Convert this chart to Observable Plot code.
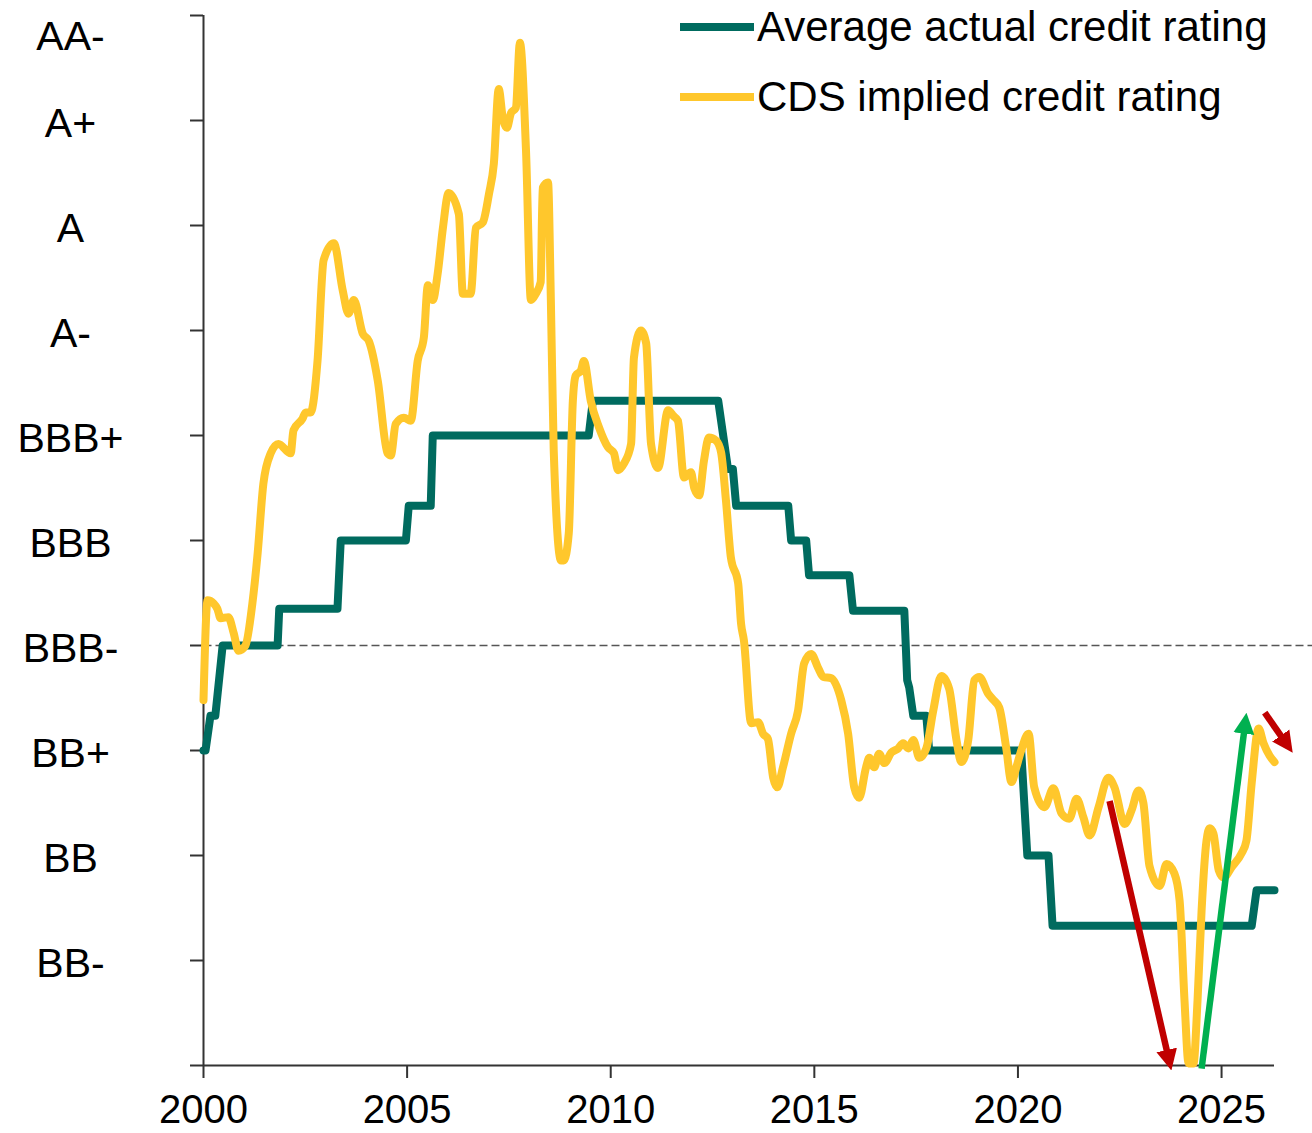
<!DOCTYPE html>
<html>
<head>
<meta charset="utf-8">
<script src="https://cdn.jsdelivr.net/npm/d3@7"></script>
<script src="https://cdn.jsdelivr.net/npm/@observablehq/plot@0.6"></script>
<style>
  html, body { margin: 0; padding: 0; background: #fff; }
  body { font-family: "Liberation Sans", Arial, sans-serif; }
  #wrap { position: relative; width: 1312px; height: 1133px; }
  .sw { position: absolute; left: 680px; width: 74px; height: 8px; }
  .lt { position: absolute; left: 757px; font-size: 42px; line-height: 54px; color: #000; white-space: nowrap; }
</style>
</head>
<body>
<div id="wrap"></div>
<script>
// Rating scale (notches), 0 = bottom of chart
const ratingLabels = ["B+", "BB-", "BB", "BB+", "BBB-", "BBB", "BBB+", "A-", "A", "A+", "AA-"];
const ratingLevels = [0, 1, 2, 3, 4, 5, 6, 7, 8, 9, 10];
const yearTicks = [2000, 2005, 2010, 2015, 2020, 2025];
const investmentGradeLevel = 4; // BBB-

// Average actual credit rating (step series)
const actualYear = [2000.00, 2000.05, 2000.17, 2000.29, 2000.47, 2001.82, 2001.86, 2003.29, 2003.37, 2004.97,
  2005.04, 2005.58, 2005.63, 2009.46, 2009.56, 2012.64, 2012.88, 2013.00, 2013.08, 2014.36,
  2014.43, 2014.80, 2014.87, 2015.86, 2015.95, 2017.21, 2017.28, 2017.33, 2017.43, 2017.75,
  2017.82, 2020.08, 2020.23, 2020.75, 2020.85, 2025.74, 2025.86, 2026.30];
const actualLevel = [3.00, 3.00, 3.33, 3.33, 4.00, 4.00, 4.35, 4.35, 5.00, 5.00,
  5.33, 5.33, 6.00, 6.00, 6.33, 6.33, 5.68, 5.68, 5.33, 5.33,
  5.00, 5.00, 4.67, 4.67, 4.33, 4.33, 3.67, 3.60, 3.33, 3.33,
  3.00, 3.00, 2.00, 2.00, 1.33, 1.33, 1.67, 1.67];

// CDS implied credit rating
const cdsYear = [2000.00, 2000.10, 2000.25, 2000.34, 2000.42, 2000.61, 2000.74, 2000.86, 2001.03, 2001.20,
  2001.33, 2001.47, 2001.65, 2001.84, 2002.14, 2002.21, 2002.43, 2002.51, 2002.63, 2002.80,
  2002.95, 2003.20, 2003.42, 2003.56, 2003.69, 2003.91, 2004.06, 2004.28, 2004.52, 2004.60,
  2004.72, 2004.92, 2005.09, 2005.26, 2005.41, 2005.51, 2005.63, 2005.75, 2005.88, 2006.02,
  2006.27, 2006.37, 2006.56, 2006.69, 2006.86, 2007.01, 2007.13, 2007.25, 2007.35, 2007.45,
  2007.55, 2007.67, 2007.77, 2007.92, 2008.04, 2008.16, 2008.28, 2008.33, 2008.46, 2008.53,
  2008.60, 2008.78, 2008.85, 2008.97, 2009.07, 2009.14, 2009.27, 2009.34, 2009.51, 2009.71,
  2009.93, 2010.08, 2010.18, 2010.32, 2010.50, 2010.57, 2010.74, 2010.87, 2010.99, 2011.16,
  2011.41, 2011.53, 2011.65, 2011.80, 2011.97, 2012.05, 2012.17, 2012.29, 2012.41, 2012.59,
  2012.71, 2012.83, 2012.95, 2013.13, 2013.20, 2013.27, 2013.45, 2013.62, 2013.74, 2013.86,
  2013.99, 2014.09, 2014.23, 2014.43, 2014.60, 2014.75, 2014.92, 2015.09, 2015.22, 2015.41,
  2015.66, 2015.83, 2015.98, 2016.10, 2016.27, 2016.35, 2016.47, 2016.59, 2016.72, 2016.89,
  2017.06, 2017.18, 2017.31, 2017.43, 2017.58, 2017.75, 2017.92, 2018.12, 2018.31, 2018.49,
  2018.61, 2018.78, 2018.93, 2019.05, 2019.27, 2019.40, 2019.54, 2019.71, 2019.84, 2019.96,
  2020.08, 2020.26, 2020.40, 2020.65, 2020.87, 2021.07, 2021.26, 2021.44, 2021.61, 2021.76,
  2021.98, 2022.22, 2022.37, 2022.62, 2022.79, 2022.96, 2023.08, 2023.23, 2023.48, 2023.65,
  2023.84, 2023.97, 2024.09, 2024.19, 2024.31, 2024.41, 2024.51, 2024.63, 2024.71, 2024.80,
  2024.93, 2025.05, 2025.25, 2025.49, 2025.61, 2025.74, 2025.91, 2026.03, 2026.18, 2026.30];
const cdsLevel = [3.48, 4.43, 4.40, 4.35, 4.26, 4.27, 4.12, 3.95, 4.00, 4.40,
  4.88, 5.54, 5.83, 5.92, 5.83, 6.05, 6.16, 6.22, 6.22, 6.71,
  7.67, 7.83, 7.38, 7.16, 7.29, 6.97, 6.90, 6.52, 5.83, 5.81,
  6.11, 6.17, 6.14, 6.71, 6.93, 7.43, 7.29, 7.54, 7.98, 8.31,
  8.11, 7.35, 7.35, 7.98, 8.03, 8.30, 8.59, 9.30, 9.02, 8.93,
  9.07, 9.12, 9.74, 8.71, 7.29, 7.35, 7.46, 8.36, 8.41, 7.29,
  5.86, 4.81, 4.81, 5.07, 6.33, 6.57, 6.62, 6.71, 6.33, 6.08,
  5.89, 5.83, 5.67, 5.73, 5.92, 6.74, 7.00, 6.88, 5.92, 5.69,
  6.24, 6.19, 6.14, 5.60, 5.65, 5.50, 5.43, 5.76, 5.98, 5.95,
  5.84, 5.38, 4.84, 4.59, 4.21, 4.05, 3.26, 3.27, 3.16, 3.11,
  2.74, 2.65, 2.84, 3.16, 3.38, 3.83, 3.92, 3.79, 3.70, 3.69,
  3.48, 3.16, 2.65, 2.55, 2.84, 2.93, 2.84, 2.97, 2.88, 2.98,
  3.02, 3.07, 3.02, 3.10, 2.93, 3.02, 3.38, 3.71, 3.59, 3.10,
  2.89, 3.10, 3.67, 3.70, 3.54, 3.48, 3.41, 3.03, 2.70, 2.84,
  3.00, 3.16, 2.65, 2.46, 2.64, 2.40, 2.35, 2.54, 2.36, 2.19,
  2.46, 2.74, 2.65, 2.30, 2.43, 2.62, 2.50, 1.90, 1.71, 1.92,
  1.83, 1.57, 0.62, 0.02, 0.02, 0.62, 1.48, 2.14, 2.26, 2.21,
  1.86, 1.79, 1.89, 2.02, 2.14, 2.69, 3.21, 3.07, 2.95, 2.89];

// Annotation arrows (data units)
const arrowStartYear = [2022.25, 2024.51, 2026.06];
const arrowStartLevel = [2.52, -0.03, 3.36];
const arrowEndYear = [2023.71, 2025.58, 2026.60];
const arrowEndLevel = [0.05, 3.26, 3.06];
const arrowColor = ["#C00000", "#00B050", "#C00000"];

const teal = "#006B5F";
const yellow = "#FFC72C";

const actual = actualYear.map((x, i) => ({x, y: actualLevel[i]}));
const cds = cdsYear.map((x, i) => ({x, y: cdsLevel[i]}));
const arrows = arrowStartYear.map((x1, i) => ({x1, y1: arrowStartLevel[i], x2: arrowEndYear[i], y2: arrowEndLevel[i], c: arrowColor[i]}));
const lowerLabels = ratingLevels.filter(d => d >= 1 && d <= 9);

const plot = Plot.plot({
  width: 1312,
  height: 1133,
  marginLeft: 203,
  marginRight: 38,
  marginTop: 15,
  marginBottom: 68,
  x: {domain: [2000, 2026.3]},
  y: {domain: [0, 10]},
  style: {fontFamily: "'Liberation Sans', Arial, sans-serif", fontSize: "40px", background: "#fff", overflow: "visible"},
  marks: [
    Plot.link([investmentGradeLevel], {x1: 2000, x2: 2027.25, y1: d => d, y2: d => d, stroke: "#555", strokeWidth: 1.6, strokeDasharray: "8,4"}),
    Plot.axisY({ticks: ratingLevels, tickSize: 13, tickFormat: () => "", stroke: "#333", strokeWidth: 2, label: null}),
    Plot.axisX({ticks: yearTicks, tickSize: 13, tickPadding: 16, tickFormat: d => String(d), stroke: "#333", strokeWidth: 2, fill: "#000", label: null, fontSize: 40}),
    Plot.ruleX([2000], {stroke: "#333", strokeWidth: 2}),
    Plot.ruleY([0], {stroke: "#333", strokeWidth: 2}),
    Plot.text(lowerLabels, {y: d => d, text: d => ratingLabels[d], frameAnchor: "left", dx: -133, dy: 3, textAnchor: "middle", fontSize: 41, fill: "#000"}),
    Plot.text([10], {y: d => d, text: d => ratingLabels[d], frameAnchor: "left", dx: -133, dy: 21, textAnchor: "middle", fontSize: 41, fill: "#000"}),
    Plot.line(actual, {x: "x", y: "y", stroke: teal, strokeWidth: 8, strokeLinejoin: "round"}),
    Plot.line(cds, {x: "x", y: "y", curve: "monotone-x", stroke: yellow, strokeWidth: 8, strokeLinejoin: "round", strokeLinecap: "round"}),
    ...arrows.map(a => Plot.link([a], {x1: "x1", y1: "y1", x2: "x2", y2: "y2", stroke: a.c, strokeWidth: 6.5}))
  ]
});

// Filled arrowheads on the annotation links
const ns = "http://www.w3.org/2000/svg";
const defs = document.createElementNS(ns, "defs");
const uniq = [...new Set(arrowColor)];
uniq.forEach((c, i) => {
  const m = document.createElementNS(ns, "marker");
  m.setAttribute("id", "ahead" + i);
  m.setAttribute("viewBox", "0 0 10 10");
  m.setAttribute("refX", "5");
  m.setAttribute("refY", "5");
  m.setAttribute("markerWidth", "21");
  m.setAttribute("markerHeight", "24");
  m.setAttribute("markerUnits", "userSpaceOnUse");
  m.setAttribute("orient", "auto");
  const p = document.createElementNS(ns, "path");
  p.setAttribute("d", "M0,0 L10,5 L0,10 Z");
  p.setAttribute("fill", c);
  m.appendChild(p);
  defs.appendChild(m);
});
plot.insertBefore(defs, plot.firstChild);
plot.querySelectorAll("g, path").forEach(el => {
  const s = (el.getAttribute("stroke") || "").toLowerCase();
  const idx = uniq.findIndex(c => c.toLowerCase() === s);
  if (idx >= 0) {
    const targets = el.tagName.toLowerCase() === "g" ? el.querySelectorAll("path") : [el];
    targets.forEach(p => p.setAttribute("marker-end", `url(#ahead${idx})`));
  }
});

const wrap = document.getElementById("wrap");
wrap.appendChild(plot);

// Legend (inside plot area, top right)
const legendItems = [
  {label: "Average actual credit rating", color: teal},
  {label: "CDS implied credit rating", color: yellow}
];
legendItems.forEach((d, i) => {
  const sw = document.createElement("div");
  sw.className = "sw";
  sw.style.top = (23 + i * 70) + "px";
  sw.style.background = d.color;
  wrap.appendChild(sw);
  const t = document.createElement("div");
  t.className = "lt";
  t.style.top = (i * 70) + "px";
  t.textContent = d.label;
  wrap.appendChild(t);
});
</script>
</body>
</html>
